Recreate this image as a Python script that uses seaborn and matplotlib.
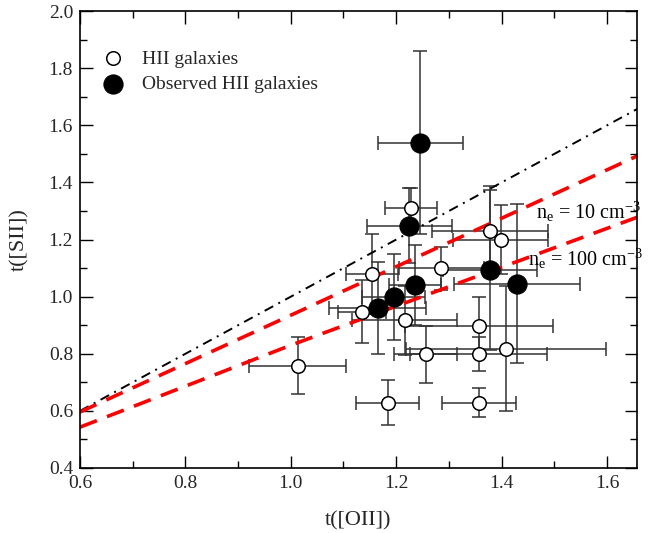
import matplotlib
matplotlib.use("Agg")
import matplotlib.pyplot as plt
import seaborn as sns
import numpy as np
import pandas as pd
from matplotlib.ticker import MultipleLocator

# Sample of HII galaxies from the literature: t([OII]), t([SII]) and their errors
lit_toii = [1.228, 1.378, 1.398, 1.154, 1.286, 1.135, 1.216, 1.357, 1.256, 1.357, 1.408, 1.013, 1.184, 1.357]
lit_tsii = [1.310, 1.229, 1.200, 1.080, 1.100, 0.948, 0.917, 0.899, 0.799, 0.799, 0.818, 0.758, 0.629, 0.629]
lit_toii_err = [0.05, 0.11, 0.09, 0.05, 0.08, 0.045, 0.10, 0.14, 0.06, 0.13, 0.19, 0.092, 0.06, 0.07]
lit_tsii_err = [0.07, 0.16, 0.12, 0.14, 0.075, 0.11, 0.12, 0.10, 0.10, 0.06, 0.22, 0.10, 0.08, 0.05]

# Our observed HII galaxies
obs_toii = [1.246, 1.225, 1.378, 1.429, 1.236, 1.195, 1.165]
obs_tsii = [1.539, 1.249, 1.092, 1.046, 1.040, 0.999, 0.960]
obs_toii_err = [0.081, 0.08, 0.09, 0.12, 0.05, 0.06, 0.092]
obs_tsii_err = [0.32, 0.13, 0.28, 0.28, 0.14, 0.15, 0.16]

# Model relations t([SII]) vs t([OII]) for two electron densities
model_t = [0.60, 1.00, 1.30, 1.66]
model_ne10 = [0.596, 0.935, 1.190, 1.495]
model_ne100 = [0.543, 0.830, 1.035, 1.280]
equality = [0.60, 1.66]

sns.set_theme(style="ticks")
plt.rcParams["font.family"] = ["Liberation Serif", "DejaVu Serif"]
plt.rcParams["mathtext.fontset"] = "custom"
plt.rcParams["mathtext.rm"] = "Liberation Serif"
plt.rcParams["mathtext.it"] = "Liberation Serif:italic"

fig = plt.figure(figsize=(6.48, 5.33), dpi=100)
ax = fig.add_axes([0.1235, 0.122, 0.8595, 0.857])

lit = pd.DataFrame({"toii": lit_toii, "tsii": lit_tsii})
obs = pd.DataFrame({"toii": obs_toii, "tsii": obs_tsii})

ebkw = dict(fmt="none", ecolor="0.2", elinewidth=1.1, capsize=5, capthick=1.1, zorder=1)
ax.errorbar(lit_toii, lit_tsii, xerr=lit_toii_err, yerr=lit_tsii_err, **ebkw)
ax.errorbar(obs_toii, obs_tsii, xerr=obs_toii_err, yerr=obs_tsii_err, **ebkw)

# one-to-one and model lines
sns.lineplot(x=equality, y=equality, ax=ax, color="black", lw=1.4,
             linestyle=(0, (5, 3, 1, 3)), zorder=2)
sns.lineplot(x=model_t, y=model_ne10, ax=ax, color="#ff0000", lw=2.6,
             linestyle=(0, (5, 3)), zorder=2)
sns.lineplot(x=model_t, y=model_ne100, ax=ax, color="#ff0000", lw=2.6,
             linestyle=(0, (5, 3)), zorder=2)

sns.scatterplot(data=lit, x="toii", y="tsii", ax=ax, s=95, marker="o",
                facecolor="white", edgecolor="black", linewidth=1.1, zorder=3,
                label="HII galaxies")
sns.scatterplot(data=obs, x="toii", y="tsii", ax=ax, s=190, marker="o",
                color="black", edgecolor="black", linewidth=0.8, zorder=4,
                label="Observed HII galaxies")

ax.text(1.466, 1.272, r"n$_{\rm e}$ = 10 cm$^{-3}$", fontsize=14.5, color="black", zorder=5)
ax.text(1.451, 1.107, r"n$_{\rm e}$ = 100 cm$^{-3}$", fontsize=14.5, color="black", zorder=5)

ax.set_xlim(0.6, 1.657)
ax.set_ylim(0.4, 2.0)
ax.xaxis.set_major_locator(MultipleLocator(0.2))
ax.xaxis.set_minor_locator(MultipleLocator(0.1))
ax.yaxis.set_major_locator(MultipleLocator(0.2))
ax.yaxis.set_minor_locator(MultipleLocator(0.1))
ax.tick_params(which="both", direction="in", top=True, right=True, labelsize=14,
               width=1.0, color="black")
ax.tick_params(which="major", length=9, pad=5)
ax.tick_params(which="minor", length=5)
for sp in ax.spines.values():
    sp.set_linewidth(1.2)
    sp.set_color("black")

ax.set_xlabel("t([OII])", fontsize=16, labelpad=14)
ax.set_ylabel("t([SII])", fontsize=16, labelpad=14)

leg = ax.legend(loc="upper left", bbox_to_anchor=(0.0, 0.945), frameon=False,
                fontsize=14, handletextpad=0.5, borderaxespad=0.3,
                labelspacing=0.4, markerscale=1.0)

fig.savefig("out.png", dpi=100)
